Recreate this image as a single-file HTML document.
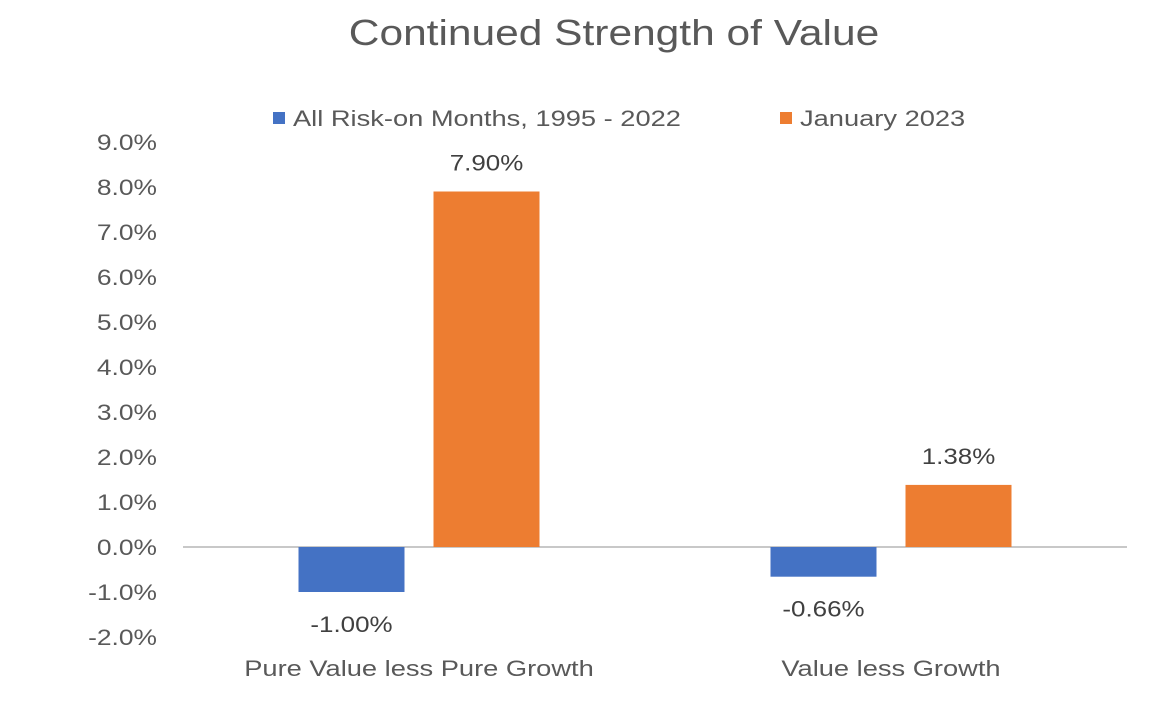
<!DOCTYPE html>
<html><head><meta charset="utf-8"><style>
body{margin:0;background:#fff;}
svg{display:block;font-family:"Liberation Sans",Arial,sans-serif;}
</style></head><body>
<svg id="c" width="1154" height="708">
<text x="614" y="45" data-s="1.18" text-anchor="middle" font-size="36" fill="#595959">Continued Strength of Value</text>
<g>
<rect x="273" y="112" width="12" height="12" fill="#4472c4"/>
<text x="293" y="126" data-s="1.24" font-size="22" fill="#595959">All Risk-on Months, 1995 - 2022</text>
<rect x="780" y="112" width="12" height="12" fill="#ed7d31"/>
<text x="800" y="126" data-s="1.24" font-size="22" fill="#595959">January 2023</text>
</g>
<g id="ticks"></g>
<g id="bars"></g>
</svg>
<script>
const categories=["Pure Value less Pure Growth","Value less Growth"];
const seriesAll=[-1.00,-0.66];
const seriesJan=[7.90,1.38];
const tickValues=[-2,-1,0,1,2,3,4,5,6,7,8,9];
const NS="http://www.w3.org/2000/svg";
const x0=183,x1=1127,yZero=547,pxPer=45;
const y=v=>yZero-v*pxPer;
const band=(x1-x0)/categories.length;
const cx=i=>x0+band*(i+0.5);
function mk(t,a,p){const e=document.createElementNS(NS,t);for(const k in a)e.setAttribute(k,a[k]);p.appendChild(e);return e;}
const tg=document.getElementById('ticks'),bg=document.getElementById('bars');
tickValues.forEach(v=>{
 const t=mk('text',{x:157,y:y(v)+8,'text-anchor':'end','font-size':22,fill:'#595959','data-s':1.2},tg);
 
 
 t.textContent=v.toFixed(1)+'%';
});
const ax=mk('line',{x1:x0,x2:x1,y1:yZero,y2:yZero,stroke:'#c8c8c8','stroke-width':2},tg);


const bw=106,gap=29;
function bar(v,xl,color,name){
 const top=Math.min(y(v),yZero),h=Math.abs(y(v)-yZero);
 const r=mk('rect',{x:xl,y:top,width:bw,height:h,fill:color},bg);
 
 
 const ly=v>=0?y(v)-21:y(v)+40;
 const t=mk('text',{x:xl+bw/2,y:ly,'text-anchor':'middle','font-size':22,fill:'#404040','data-s':1.18},bg);
 
 
 t.textContent=v.toFixed(2)+'%';
}
categories.forEach((c,i)=>{
 bar(seriesAll[i],cx(i)-gap/2-bw,'#4472c4','bar-all-risk-on-'+i);
 bar(seriesJan[i],cx(i)+gap/2,'#ed7d31','bar-january-2023-'+i);
 const t=mk('text',{x:cx(i),y:676,'text-anchor':'middle','font-size':22,fill:'#595959','data-s':1.24},bg);
 
 
 t.textContent=c;
});
document.querySelectorAll('#c text').forEach(t=>{
 const s=parseFloat(t.getAttribute('data-s')||1.2);
 const x=parseFloat(t.getAttribute('x'));
 t.setAttribute('transform','translate('+(x*(1-s))+',0) scale('+s+',1)');
});
</script>
</body></html>
